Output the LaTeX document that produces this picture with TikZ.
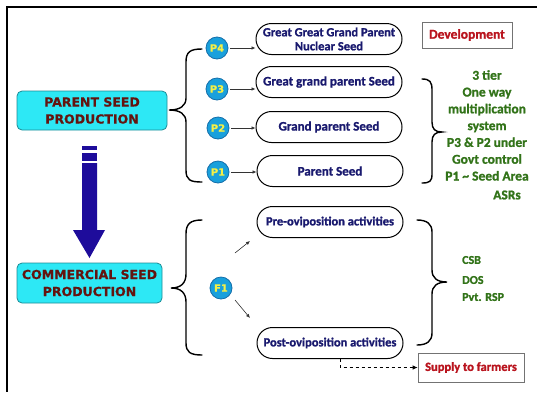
\documentclass[tikz,border=0pt]{standalone}
\usepackage{fontspec}
\setmainfont{Carlito}[BoldFeatures={FakeBold=1.2}]
\newfontfamily\vfont{DejaVu Sans}[BoldFeatures={FakeBold=0.8}]
\usetikzlibrary{arrows.meta,calc}
\definecolor{cyanfill}{RGB}{45,232,245}
\definecolor{cyanedge}{RGB}{30,140,150}
\definecolor{titlered}{RGB}{100,20,15}
\definecolor{navytext}{RGB}{25,25,110}
\definecolor{circfill}{RGB}{25,160,220}
\definecolor{circedge}{RGB}{20,110,170}
\definecolor{ptext}{RGB}{245,240,70}
\definecolor{arrowblue}{RGB}{30,12,155}
\definecolor{greentext}{RGB}{50,115,25}
\definecolor{devred}{RGB}{185,20,30}
\tikzset{
  titlebox/.style={draw=cyanedge, fill=cyanfill, line width=0.8pt, rounded corners=5pt,
    text=titlered, align=center, inner sep=0pt,
    font=\vfont\bfseries\fontsize{12.5}{17}\selectfont},
  oval/.style={draw, line width=1pt, rounded corners=15.5pt, minimum width=146pt,
    minimum height=31pt, inner sep=0pt, text=navytext, align=center,
    font=\bfseries\fontsize{13}{14}\selectfont},
  pcirc/.style={circle, draw=circedge, fill=circfill, line width=0.8pt, minimum size=22pt,
    inner sep=0pt, text=ptext, font=\vfont\bfseries\fontsize{10}{12}\selectfont},
  sarrow/.style={line width=0.6pt, black!80, -{Latex[length=4pt,width=3.5pt]}, shorten <=2pt},
  brace/.style={line width=1.4pt, line cap=round},
  greenlbl/.style={text=greentext, align=center, inner sep=0pt,
    font=\bfseries\fontsize{13.5}{16.8}\selectfont},
  redbox/.style={draw=black!55, line width=0.6pt, text=devred, inner sep=0pt,
    font=\bfseries\fontsize{13.5}{15}\selectfont},
}
\begin{document}
\begin{tikzpicture}[x=1pt,y=-1pt]
\useasboundingbox (0,0) rectangle (537,392);
% frame
\draw[line width=1.5pt] (6,7) -- (537,7);
\draw[line width=2.5pt] (7,6) -- (7,392);

% title boxes
\node[titlebox, minimum width=150pt, minimum height=39pt] (psp) at (92,110.5) {PARENT SEED\\PRODUCTION};
\node[titlebox, minimum width=145pt, minimum height=40pt] (csp) at (89.5,283) {COMMERCIAL SEED\\PRODUCTION};

% big arrow
\fill[arrowblue] (82,146) rectangle (97,150);
\fill[arrowblue] (82,153) rectangle (97,161);
\fill[arrowblue] (82,163) -- (97,163) -- (97,230) -- (105,230) -- (89.5,258) -- (73,230) -- (82,230) -- cycle;

% left brace (parent)
\draw[brace] (202,49) .. controls (190,49) and (186,52) .. (186,62) -- (186,98)
  .. controls (186,106) and (180,110) .. (169,110)
  .. controls (180,110) and (186,114) .. (186,122) -- (186,170)
  .. controls (186,180) and (190,182) .. (202,182);

% circles
\node[pcirc] (p4) at (217,48) {P4};
\node[pcirc] (p3) at (217,89) {P3};
\node[pcirc] (p2) at (218,128) {P2};
\node[pcirc] (p1) at (218,172) {P1};

% ovals
\node[oval, font=\bfseries\fontsize{12.5}{14}\selectfont] (e4) at (329,39) {Great Great Grand Parent\\Nuclear Seed};
\node[oval] (e3) at (329,82) {Great grand parent Seed};
\node[oval] (e2) at (329,127) {Grand parent Seed};
\node[oval] (e1) at (330,171) {Parent Seed};

\draw[sarrow] (p4) -- (p4 -| e4.west);
\draw[sarrow] (p3) -- (p3 -| e3.west);
\draw[sarrow] (p2) -- (p2 -| e2.west);
\draw[sarrow] (p1) -- (p1 -| e1.west);

% development
\node[redbox, minimum width=90pt, minimum height=26pt] (dev) at (467,35) {Development};

% right brace (parent)
\draw[brace] (422,79) .. controls (430,79) and (432,82) .. (432,90) -- (432,122)
  .. controls (432,129) and (435,132) .. (442,132)
  .. controls (435,132) and (432,135) .. (432,142) -- (432,174)
  .. controls (432,181) and (430,183) .. (422,183);

\node[greenlbl, anchor=north] (tier) at (487,70) {3 tier\\One way\\multiplication\\system\\P3 \& P2 under\\Govt control\\P1 \textasciitilde{} Seed Area};
\node[greenlbl] (asr) at (507,195) {ASRs};

% lower left brace
\draw[brace] (202,220) .. controls (190,220) and (186,224) .. (186,234) -- (186,274)
  .. controls (186,283) and (181,288) .. (171,288)
  .. controls (181,288) and (186,293) .. (186,302) -- (186,343)
  .. controls (186,352) and (190,355) .. (202,355);

\node[pcirc] (f1) at (221,288) {F1};
\node[oval, font=\bfseries\fontsize{12.5}{14}\selectfont] (pre) at (330,222) {Pre-oviposition activities};
\node[oval, font=\bfseries\fontsize{12.5}{14}\selectfont] (post) at (330,343) {Post-oviposition activities};

\coordinate (u1) at (235,253);
\coordinate (u2) at (250,241);
\coordinate (d1) at (235,300);
\coordinate (d2) at (250,318);
\draw[sarrow, shorten <=0pt] (u1) -- (u2);
\draw[sarrow, shorten <=0pt] (d1) -- (d2);

% lower right brace
\draw[brace] (417,220) .. controls (427,220) and (432,224) .. (432,232) -- (432,270)
  .. controls (432,278) and (437,282) .. (447,282)
  .. controls (437,282) and (432,286) .. (432,294) -- (432,333)
  .. controls (432,341) and (427,345) .. (417,345);

\node[greenlbl, anchor=west, font=\bfseries\fontsize{12}{14}\selectfont] (csb) at (462,260) {CSB};
\node[greenlbl, anchor=west, font=\bfseries\fontsize{12}{14}\selectfont] (dos) at (462,280) {DOS};
\node[greenlbl, anchor=west, font=\bfseries\fontsize{12}{14}\selectfont] (rsp) at (462,297) {Pvt. RSP};

% supply
\node[redbox, minimum width=106pt, minimum height=29pt, font=\bfseries\fontsize{12.5}{14}\selectfont] (sup) at (471,367.5) {Supply to farmers};
\coordinate (ds) at ($(post.south)+(10,0)$);
\draw[dashed, line width=0.8pt, -{Latex[length=5pt,width=4.5pt]}] (ds) |- (sup.west);
\end{tikzpicture}
\end{document}
